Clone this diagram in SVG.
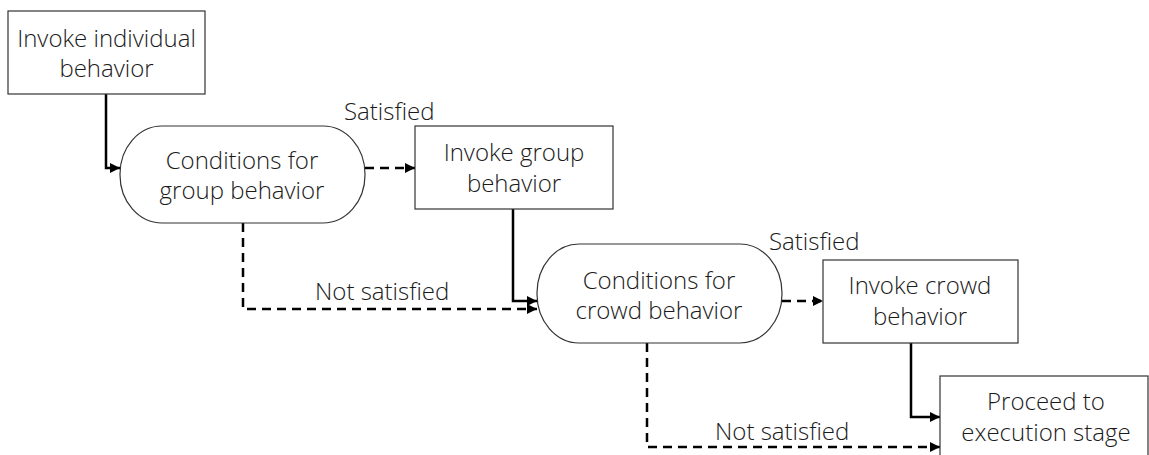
<svg xmlns="http://www.w3.org/2000/svg" width="1149" height="455" viewBox="0 0 1149 455">
  <defs>
    <marker id="arrow" viewBox="0 0 10 10" refX="10" refY="5" markerWidth="4" markerHeight="4" orient="auto" markerUnits="strokeWidth">
      <path d="M0,0 L10,5 L0,10 z" fill="#000"/>
    </marker>
    <style>
      .box { fill: #fff; stroke: #333; stroke-width: 1.2; }
      .lbl { font-family: "Open Sans", "Liberation Sans", sans-serif; font-weight: 300; font-size: 24px; fill: #1a1a1a; text-anchor: middle; }
      .tag { font-family: "Open Sans", "Liberation Sans", sans-serif; font-weight: 300; font-size: 24px; fill: #1a1a1a; }
      .solid { fill: none; stroke: #000; stroke-width: 2.5; marker-end: url(#arrow); }
      .dash { fill: none; stroke: #000; stroke-width: 2.5; stroke-dasharray: 9 6; marker-end: url(#arrow); }
    </style>
  </defs>
  <rect width="1149" height="455" fill="#fff"/>

  <g id="connectors">
    <path class="solid" d="M106,94 V168 H120"/>
    <path class="dash" d="M365,168 H415"/>
    <path class="dash" d="M243,223 V309 H537"/>
    <path class="solid" d="M513,209 V301 H537"/>
    <path class="dash" d="M782,301 H823"/>
    <path class="dash" d="M647,343 V447 H940"/>
    <path class="solid" d="M911,343 V417 H940"/>
  </g>

  <g id="n-individual">
    <rect class="box" x="8" y="11" width="197" height="83"/>
    <text class="lbl" x="106.5" y="47">Invoke individual</text>
    <text class="lbl" x="106.5" y="77">behavior</text>
  </g>

  <g id="n-cond-group">
    <rect class="box" x="120" y="126" width="245" height="97" rx="42" ry="48"/>
    <text class="lbl" x="242" y="169">Conditions for</text>
    <text class="lbl" x="242" y="199">group behavior</text>
  </g>

  <g id="n-group">
    <rect class="box" x="415" y="126" width="198" height="83"/>
    <text class="lbl" x="514" y="161">Invoke group</text>
    <text class="lbl" x="514" y="192">behavior</text>
  </g>

  <g id="n-cond-crowd">
    <rect class="box" x="537" y="244" width="245" height="99" rx="42" ry="49"/>
    <text class="lbl" x="659" y="289">Conditions for</text>
    <text class="lbl" x="659" y="319">crowd behavior</text>
  </g>

  <g id="n-crowd">
    <rect class="box" x="823" y="260" width="195" height="83"/>
    <text class="lbl" x="920" y="294">Invoke crowd</text>
    <text class="lbl" x="920" y="325">behavior</text>
  </g>

  <g id="n-proceed">
    <rect class="box" x="940" y="376" width="208" height="90"/>
    <text class="lbl" x="1046" y="410">Proceed to</text>
    <text class="lbl" x="1046" y="441">execution stage</text>
  </g>

  <g id="labels">
    <text class="tag" x="344" y="120">Satisfied</text>
    <text class="tag" x="315" y="300">Not satisfied</text>
    <text class="tag" x="769" y="250">Satisfied</text>
    <text class="tag" x="715" y="440">Not satisfied</text>
  </g>
</svg>
